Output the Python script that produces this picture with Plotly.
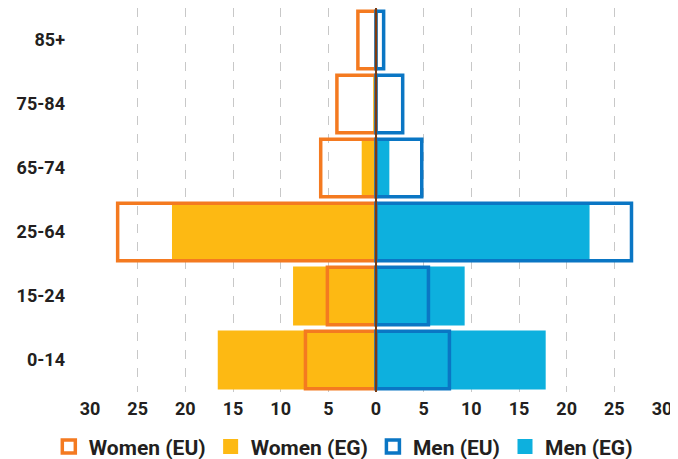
import plotly.graph_objects as go

categories = ["0-14", "15-24", "25-64", "65-74", "75-84", "85+"]
women_eu = [7.4, 5.1, 27.1, 5.8, 4.1, 1.9]
women_eg = [16.6, 8.7, 21.4, 1.5, 0.3, 0.1]
men_eu = [7.7, 5.5, 26.8, 4.8, 2.8, 0.8]
men_eg = [17.8, 9.3, 22.4, 1.4, 0.1, 0.0]
tick_vals = [-30, -25, -20, -15, -10, -5, 0, 5, 10, 15, 20, 25, 30]
tick_text = [str(abs(v)) for v in tick_vals]
legend_names = ["Women (EU)", "Women (EG)", "Men (EU)", "Men (EG)"]

FONT = "Roboto"
ORANGE = "#f47a20"
YELLOW = "#fdb913"
BLUE = "#0a76c4"
CYAN = "#0db0de"
TEXT = "#231f20"

fig = go.Figure()
fig.add_trace(go.Bar(y=categories, x=[-v for v in women_eg], orientation="h",
                     name=legend_names[1], marker=dict(color=YELLOW, line=dict(width=0)),
                     width=0.92, showlegend=False))
fig.add_trace(go.Bar(y=categories, x=men_eg, orientation="h",
                     name=legend_names[3], marker=dict(color=CYAN, line=dict(width=0)),
                     width=0.92, showlegend=False))
fig.add_trace(go.Bar(y=categories, x=[-v for v in women_eu], orientation="h",
                     name=legend_names[0],
                     marker=dict(color="rgba(0,0,0,0)", line=dict(color=ORANGE, width=3.5)),
                     width=0.9, showlegend=False))
fig.add_trace(go.Bar(y=categories, x=men_eu, orientation="h",
                     name=legend_names[2],
                     marker=dict(color="rgba(0,0,0,0)", line=dict(color=BLUE, width=3.5)),
                     width=0.9, showlegend=False))

# legend entries (square symbols like the reference)
legend_styles = [
    dict(color="white", line=dict(color=ORANGE, width=3.5), size=13),
    dict(color=YELLOW, line=dict(color=YELLOW, width=0), size=15),
    dict(color="white", line=dict(color=BLUE, width=3.5), size=13),
    dict(color=CYAN, line=dict(color=CYAN, width=0), size=15),
]
for name, st in zip(legend_names, legend_styles):
    fig.add_trace(go.Scatter(x=[None], y=[None], mode="markers", name=name,
                             marker=dict(symbol="square", **st), showlegend=True))

fig.add_shape(type="line", xref="x", yref="paper", x0=0, x1=0, y0=0, y1=1,
              line=dict(color="#7a3a12", width=2), layer="above")

fig.update_layout(
    width=670, height=451,
    barmode="overlay",
    plot_bgcolor="white", paper_bgcolor="white",
    margin=dict(l=82, r=16, t=0, b=67, autoexpand=False),
    font=dict(family=FONT, color=TEXT, size=17),
    showlegend=True,
    legend=dict(orientation="h", x=-0.072, xanchor="left", xref="paper",
                y=-0.143, yanchor="middle", yref="paper",
                font=dict(family=FONT, size=21, color=TEXT, weight="bold"),
                traceorder="normal", itemwidth=30, itemsizing="trace"),
    bargap=0.08,
)
fig.update_xaxes(range=[-30, 30], tickvals=tick_vals, ticktext=tick_text,
                 showgrid=True, gridcolor="#c8c8c8", griddash="dash", gridwidth=1,
                 zeroline=False, showline=False, ticks="", automargin=False,
                 ticklabelstandoff=4,
                 tickfont=dict(family=FONT, size=18, color=TEXT, weight="bold"))
fig.update_yaxes(type="category", categoryorder="array", categoryarray=categories,
                 range=[-0.5, 5.5], showgrid=False, zeroline=False, ticks="",
                 ticklabelstandoff=24, automargin=False,
                 tickfont=dict(family=FONT, size=18, color=TEXT, weight="bold"))

fig.write_html("out.html")
